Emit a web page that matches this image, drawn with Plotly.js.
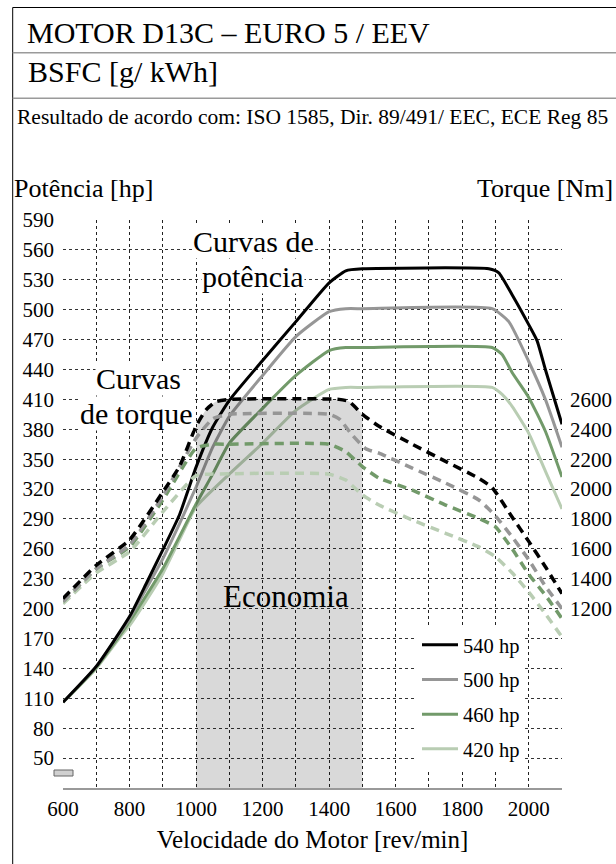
<!DOCTYPE html>
<html>
<head>
<meta charset="utf-8">
<script src="https://cdn.plot.ly/plotly-3.0.1.min.js"></script>
<style>html,body{margin:0;padding:0;background:#fff;}#chart{width:616px;height:864px;}</style>
</head>
<body>
<div id="chart"></div>
<script>
// ---------- DATA ----------
const seriesNames = ["540 hp", "500 hp", "460 hp", "420 hp"];

// Power curves [hp] vs engine speed [rev/min]
const rpmP540 = [600, 700, 800, 850, 900, 950, 1000, 1050, 1100, 1200, 1300, 1400, 1450, 1500, 1880, 1910, 1950, 2000, 2025, 2050, 2100];
const hpP540  = [106, 142, 192, 225, 259, 294, 342, 382, 409, 449, 488, 527, 539, 541, 541, 537, 515, 485, 469, 440, 385];

const rpmP500 = [600, 700, 800, 850, 900, 950, 1000, 1050, 1100, 1200, 1300, 1400, 1450, 1500, 1890, 1940, 2000, 2050, 2100];
const hpP500  = [106, 142, 190, 220, 250, 285, 322, 362, 393, 434, 473, 498, 501, 501, 501, 488, 448, 410, 362];

const rpmP460 = [600, 700, 800, 900, 1000, 1050, 1100, 1200, 1300, 1400, 1450, 1500, 1890, 1920, 1950, 2000, 2050, 2100];
const hpP460  = [106, 141, 187, 240, 305, 335, 366, 401, 434, 459, 462, 462, 462, 455, 437, 412, 378, 332];

const rpmP420 = [600, 700, 780, 800, 850, 900, 950, 1000, 1100, 1200, 1300, 1400, 1450, 1500, 1890, 1920, 1950, 2000, 2050, 2100];
const hpP420  = [106, 140, 175, 183, 208, 235, 269, 302, 335, 366, 399, 420, 422, 422, 422, 415, 403, 376, 338, 300];

// Torque curves [Nm] vs engine speed [rev/min]
const rpmT540 = [600, 700, 800, 900, 950, 1000, 1030, 1060, 1100, 1430, 1460, 1500, 1550, 1650, 1750, 1850, 1890, 1950, 2000, 2050, 2100];
const nmT540  = [1267, 1490, 1660, 1980, 2150, 2420, 2530, 2585, 2600, 2600, 2585, 2500, 2420, 2300, 2185, 2072, 2010, 1813, 1650, 1480, 1300];

const rpmT500 = [600, 700, 800, 900, 1000, 1050, 1100, 1400, 1430, 1470, 1510, 1550, 1650, 1750, 1850, 1900, 1950, 2000, 2050, 2100];
const nmT500  = [1247, 1467, 1627, 1953, 2340, 2470, 2500, 2500, 2470, 2360, 2270, 2240, 2140, 2040, 1927, 1820, 1680, 1527, 1350, 1200];

const rpmT460 = [600, 700, 800, 900, 1000, 1050, 1100, 1400, 1450, 1500, 1550, 1650, 1750, 1850, 1900, 1950, 2000, 2050, 2100];
const nmT460  = [1247, 1467, 1613, 1927, 2273, 2300, 2300, 2300, 2250, 2150, 2073, 1993, 1893, 1804, 1747, 1600, 1430, 1290, 1133];

const rpmT420 = [600, 700, 800, 900, 1000, 1050, 1400, 1450, 1500, 1550, 1650, 1750, 1850, 1900, 1950, 2000, 2050, 2100];
const nmT420  = [1233, 1440, 1580, 1847, 2090, 2100, 2100, 2060, 1960, 1893, 1793, 1704, 1613, 1547, 1440, 1310, 1165, 1010];

// Economy band [rev/min]
const economyRange = [1000, 1500];

// Tick labels
const xTickVals  = [600, 800, 1000, 1200, 1400, 1600, 1800, 2000];
const yTickVals  = [50, 80, 110, 140, 170, 200, 230, 260, 290, 320, 350, 380, 410, 440, 470, 500, 530, 560, 590];
const y2TickVals = [1200, 1400, 1600, 1800, 2000, 2200, 2400, 2600];

// Texts
const titleText = "MOTOR D13C \u2013 EURO 5 / EEV";
const subTitle  = "BSFC [g/ kWh]";
const noteText  = "Resultado de acordo com: ISO 1585, Dir. 89/491/ EEC, ECE Reg 85";

// ---------- STYLE ----------
const colors = ["#000000", "#969696", "#729a6a", "#b9cdb3"];
const FONT = "Liberation Serif";
const W = 616, H = 864;
const M = {l: 63, r: 54, t: 220, b: 76};
const PW = W - M.l - M.r, PH = H - M.t - M.b;
const X = px => (px - M.l) / PW;
const Y = py => (H - M.b - py) / PH;

const powerR = [rpmP540, rpmP500, rpmP460, rpmP420];
const powerV = [hpP540, hpP500, hpP460, hpP420];
const torqR  = [rpmT540, rpmT500, rpmT460, rpmT420];
const torqV  = [nmT540, nmT500, nmT460, nmT420];

const traces = [];
// economy shading under the top torque curve
const ex = [], ey = [];
rpmT540.forEach((r, i) => { if (r >= economyRange[0] && r <= economyRange[1]) { ex.push(r); ey.push(nmT540[i]); } });
traces.push({x: ex, y: ey, yaxis: "y2", mode: "lines", line: {width: 0, shape: "spline", smoothing: 0.5},
  fill: "tozeroy", fillcolor: "rgba(0,0,0,0.15)", showlegend: false, hoverinfo: "skip"});

for (let i = 3; i >= 0; i--) {
  traces.push({x: torqR[i], y: torqV[i], yaxis: "y2", mode: "lines", name: seriesNames[i], showlegend: false,
    line: {color: colors[i], width: 3.5, dash: "9px,6px", shape: "spline", smoothing: 0.5}});
}
for (let i = 3; i >= 0; i--) {
  traces.push({x: powerR[i], y: powerV[i], yaxis: "y", mode: "lines", name: seriesNames[i], legendgroup: "g" + i,
    legendrank: i + 1, line: {color: colors[i], width: 3, shape: "spline", smoothing: 0.5}});
}

const tfont = {family: FONT, size: 21, color: "#000"};
const layout = {
  width: W, height: H, margin: M, paper_bgcolor: "#fff", plot_bgcolor: "#fff",
  font: {family: FONT, color: "#000"},
  xaxis: {range: [600, 2100], tickvals: xTickVals, tickfont: tfont, ticks: "", ticklabelstandoff: 1,
    showgrid: true, gridcolor: "#222", griddash: "dot", gridwidth: 1,
    minor: {dtick: 100, tick0: 600, showgrid: true, gridcolor: "#222", griddash: "dot", gridwidth: 1},
    zeroline: false, showline: true, linecolor: "#999", linewidth: 2,
    title: {text: "Velocidade do Motor [rev/min]", font: {family: FONT, size: 25, color: "#000"}, standoff: 10}},
  yaxis: {range: [20, 590], tickvals: yTickVals, tickfont: tfont, ticks: "", ticklabelstandoff: 8,
    showgrid: true, gridcolor: "#333", griddash: "dot", gridwidth: 1, zeroline: false, showline: false},
  yaxis2: {range: [0, 3800], overlaying: "y", side: "right", tickvals: y2TickVals, tickfont: tfont, ticks: "",
    ticklabelstandoff: 7, showgrid: false, zeroline: false, showline: false},
  legend: {x: X(417), y: Y(625), xanchor: "left", yanchor: "top", bgcolor: "#fff", borderwidth: 0,
    font: {family: FONT, size: 20.5, color: "#000"}, traceorder: "grouped", tracegroupgap: 5, itemwidth: 36},
  shapes: [
    {type: "line", xref: "paper", yref: "paper", x0: X(12.7), x1: X(616), y0: Y(7.5), y1: Y(7.5), line: {color: "#000", width: 1}},
    {type: "line", xref: "paper", yref: "paper", x0: X(12.7), x1: X(12.7), y0: Y(7.5), y1: Y(864), line: {color: "#000", width: 1}},
    {type: "line", xref: "paper", yref: "paper", x0: X(12.7), x1: X(616), y0: Y(52.7), y1: Y(52.7), line: {color: "#9a9a9a", width: 1.5}},
    {type: "line", xref: "paper", yref: "paper", x0: X(12.7), x1: X(616), y0: Y(98.3), y1: Y(98.3), line: {color: "#9a9a9a", width: 1.5}},
    {type: "rect", xref: "paper", yref: "paper", x0: X(54), x1: X(73), y0: Y(776), y1: Y(770), fillcolor: "#d0d0d0", line: {color: "#666", width: 1}}
  ],
  annotations: [
    {text: titleText, x: X(25), y: Y(32), xanchor: "left", yanchor: "middle", font: {family: FONT, size: 30}},
    {text: subTitle, x: X(26), y: Y(72), xanchor: "left", yanchor: "middle", font: {family: FONT, size: 30}},
    {text: noteText, x: X(15), y: Y(117), xanchor: "left", yanchor: "middle", font: {family: FONT, size: 21.5}},
    {text: "Potência [hp]", x: X(12), y: Y(188), xanchor: "left", yanchor: "middle", font: {family: FONT, size: 26}},
    {text: "Torque [Nm]", x: X(615), y: Y(188), xanchor: "right", yanchor: "middle", font: {family: FONT, size: 26}},
    {text: "Curvas de", x: X(253), y: Y(241), xanchor: "center", yanchor: "middle", bgcolor: "#fff", borderpad: 0, font: {family: FONT, size: 30}},
    {text: "potência", x: X(253), y: Y(276), xanchor: "center", yanchor: "middle", bgcolor: "#fff", borderpad: 0, font: {family: FONT, size: 30}},
    {text: "Curvas", x: X(138), y: Y(378), xanchor: "center", yanchor: "middle", bgcolor: "#fff", borderpad: 0, font: {family: FONT, size: 30}},
    {text: "de torque", x: X(136), y: Y(413), xanchor: "center", yanchor: "middle", bgcolor: "#fff", borderpad: 0, font: {family: FONT, size: 30}},
    {text: "Economia", x: X(286), y: Y(596), xanchor: "center", yanchor: "middle", font: {family: FONT, size: 31}}
  ].map(a => Object.assign({xref: "paper", yref: "paper", showarrow: false}, a))
};

Plotly.newPlot("chart", traces, layout, {displayModeBar: false, staticPlot: true});
</script>
</body>
</html>
